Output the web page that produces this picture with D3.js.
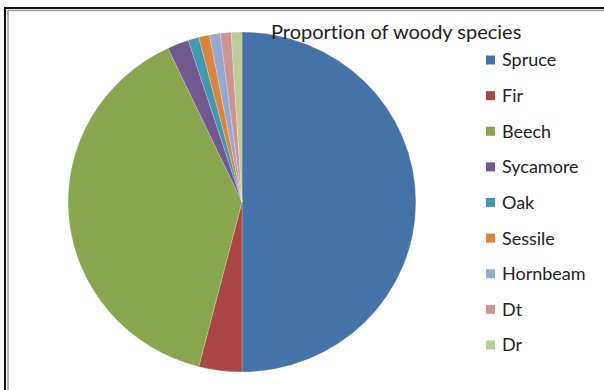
<!DOCTYPE html>
<html>
<head>
<meta charset="utf-8">
<script src="https://cdn.jsdelivr.net/npm/d3@7/dist/d3.min.js"></script>
<style>
  body { margin: 0; background: #fff; }
  svg { display: block; }
  text { font-variant-ligatures: none; }
</style>
</head>
<body>
<div id="chart"></div>
<script>
// Species share of woody stock (percent)
const species = ['Spruce', 'Fir', 'Beech', 'Sycamore', 'Oak', 'Sessile', 'Hornbeam', 'Dt', 'Dr'];
const shares = [50, 4, 39, 2, 1, 1, 1, 1, 1];
const colors = ['#4572A7', '#AA4643', '#89A54E', '#71588F', '#4198AF', '#DB843D', '#93A9CF', '#D19392', '#B9CD96'];
const chartTitle = 'Proportion of woody species';

const width = 604, height = 390;
const font = 'Lato, "Open Sans", sans-serif';

const svg = d3.select('#chart').append('svg')
    .attr('width', width)
    .attr('height', height);

// Chart frame (only top and left edges are visible)
svg.append('path')
    .attr('d', `M5,${height} V8 H${width}`)
    .attr('fill', 'none')
    .attr('stroke', '#111')
    .attr('stroke-width', 2);
svg.append('path')
    .attr('d', `M8,${height} V10.5 H${width}`)
    .attr('fill', 'none')
    .attr('stroke', '#9a9a9a')
    .attr('stroke-width', 1.5);

// Pie (picture is slightly stretched sideways)
const data = species.map((name, i) => ({ name, value: shares[i], color: colors[i] }));
const pie = d3.pie().sort(null).value(d => d.value);
const arc = d3.arc().innerRadius(0).outerRadius(170);

const pieGroup = svg.append('g')
    .attr('transform', 'translate(242,202) scale(1.023,1)');

pieGroup.selectAll('path')
    .data(pie(data))
    .join('path')
    .attr('d', arc)
    .attr('fill', d => d.data.color)
    .attr('stroke', 'rgba(255,255,255,0.35)')
    .attr('stroke-width', 0.6);

// Title
svg.append('text')
    .attr('x', 271)
    .attr('y', 39)
    .attr('font-family', font)
    .attr('font-size', 20)
    .attr('fill', '#222')
    .text(chartTitle);

// Legend
const legendY = d3.scalePoint()
    .domain(species)
    .range([60, 345]);

const legend = svg.append('g');
const rows = legend.selectAll('g')
    .data(data)
    .join('g')
    .attr('transform', d => `translate(486,${legendY(d.name)})`);

rows.append('rect')
    .attr('x', 0)
    .attr('y', -4.5)
    .attr('width', 9)
    .attr('height', 9)
    .attr('fill', d => d.color);

rows.append('text')
    .attr('x', 16)
    .attr('y', 0)
    .attr('dy', '0.36em')
    .attr('font-family', font)
    .attr('font-size', 18)
    .attr('fill', '#222')
    .text(d => d.name);
</script>
</body>
</html>
